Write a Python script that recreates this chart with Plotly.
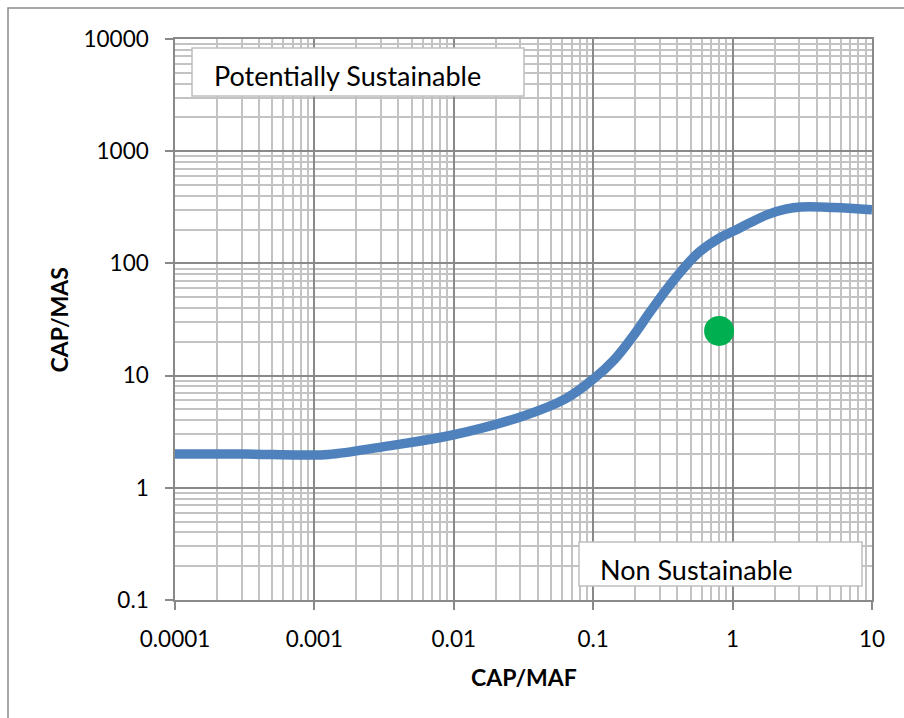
import plotly.graph_objects as go

# Sustainability curve: CAP/MAS as a function of CAP/MAF
cap_maf = [0.0001, 0.000316, 0.000794, 0.00126, 0.00316, 0.01, 0.0316, 0.0631,
           0.1, 0.141, 0.19, 0.257, 0.339, 0.437, 0.575, 0.813, 1.0, 1.32,
           1.78, 2.4, 3.09, 5.25, 10]
cap_mas = [2.0, 2.0, 1.96, 1.98, 2.33, 2.97, 4.37, 6.2,
           9.3, 13.8, 21.9, 37.2, 59.5, 88, 126, 170, 192, 229,
           272, 304, 318, 315, 300]

# Evaluated site
site_maf = [0.8]
site_mas = [25]

x_tick_vals = [0.0001, 0.001, 0.01, 0.1, 1, 10]
x_tick_text = ["0.0001", "0.001", "0.01", "0.1", "1", "10"]
y_tick_vals = [0.1, 1, 10, 100, 1000, 10000]
y_tick_text = ["0.1", "1", "10", "100", "1000", "10000"]

FONT = "Lato"
MAJOR = "#898989"
MINOR = "#C3C3C3"

W, H = 904, 718
L, R, T, B = 175, 32, 39, 118
PW, PH = W - L - R, H - T - B


def px_x(px):
    return (px - L) / PW


def px_y(py):
    return (H - B - py) / PH


fig = go.Figure()
fig.add_trace(go.Scatter(
    x=cap_maf, y=cap_mas, mode="lines",
    line=dict(color="#4F81BD", width=9.5, shape="spline", smoothing=1.1),
    hoverinfo="skip", showlegend=False,
))
fig.add_trace(go.Scatter(
    x=site_maf, y=site_mas, mode="markers",
    marker=dict(color="#00B050", size=30, line=dict(width=0)),
    showlegend=False,
))

axis_common = dict(
    type="log",
    showgrid=True, gridcolor=MAJOR, gridwidth=1.5,
    showline=True, linecolor=MAJOR, linewidth=1.5, mirror=True,
    ticks="outside", ticklen=8, tickcolor=MAJOR, tickwidth=1.5,
    tickfont=dict(family=FONT, size=22.5, color="black"),
    minor=dict(dtick="D1", showgrid=True, gridcolor=MINOR, gridwidth=1.5, ticks=""),
    zeroline=False,
)

fig.update_xaxes(range=[-4, 1], tickmode="array", tickvals=x_tick_vals,
                 ticktext=x_tick_text, ticklabelstandoff=10, **axis_common)
fig.update_yaxes(range=[-1, 4], tickmode="array", tickvals=y_tick_vals,
                 ticktext=y_tick_text, ticklabelstandoff=12, **axis_common)

shapes = [
    # outer chart frame
    dict(type="rect", xref="paper", yref="paper",
         x0=px_x(8), x1=px_x(W + 20), y0=px_y(H + 20), y1=px_y(8),
         line=dict(color="#8C8C8C", width=1.5), fillcolor="rgba(0,0,0,0)",
         layer="below"),
    # region label boxes
    dict(type="rect", xref="paper", yref="paper",
         x0=px_x(192), x1=px_x(524), y0=px_y(96), y1=px_y(48),
         line=dict(color="#BFBFBF", width=1.5), fillcolor="white", layer="above"),
    dict(type="rect", xref="paper", yref="paper",
         x0=px_x(579), x1=px_x(862), y0=px_y(586), y1=px_y(542),
         line=dict(color="#BFBFBF", width=1.5), fillcolor="white", layer="above"),
]

annotations = [
    dict(text="Potentially Sustainable", xref="paper", yref="paper",
         x=px_x(212), y=px_y(76), xanchor="left", yanchor="middle",
         showarrow=False, font=dict(family=FONT, size=27, color="black")),
    dict(text="Non Sustainable", xref="paper", yref="paper",
         x=px_x(598), y=px_y(569), xanchor="left", yanchor="middle",
         showarrow=False, font=dict(family=FONT, size=27, color="black")),
    dict(text="<b>CAP/MAF</b>", xref="paper", yref="paper",
         x=0.5, y=px_y(677), xanchor="center", yanchor="middle",
         showarrow=False, font=dict(family=FONT, size=23, color="black")),
    dict(text="<b>CAP/MAS</b>", xref="paper", yref="paper",
         x=px_x(58), y=0.5, xanchor="center", yanchor="middle", textangle=-90,
         showarrow=False, font=dict(family=FONT, size=23, color="black")),
]

fig.update_layout(
    width=W, height=H,
    margin=dict(l=L, r=R, t=T, b=B, autoexpand=False),
    paper_bgcolor="white", plot_bgcolor="white",
    shapes=shapes, annotations=annotations,
    showlegend=False,
)

fig.write_html("out.html")
